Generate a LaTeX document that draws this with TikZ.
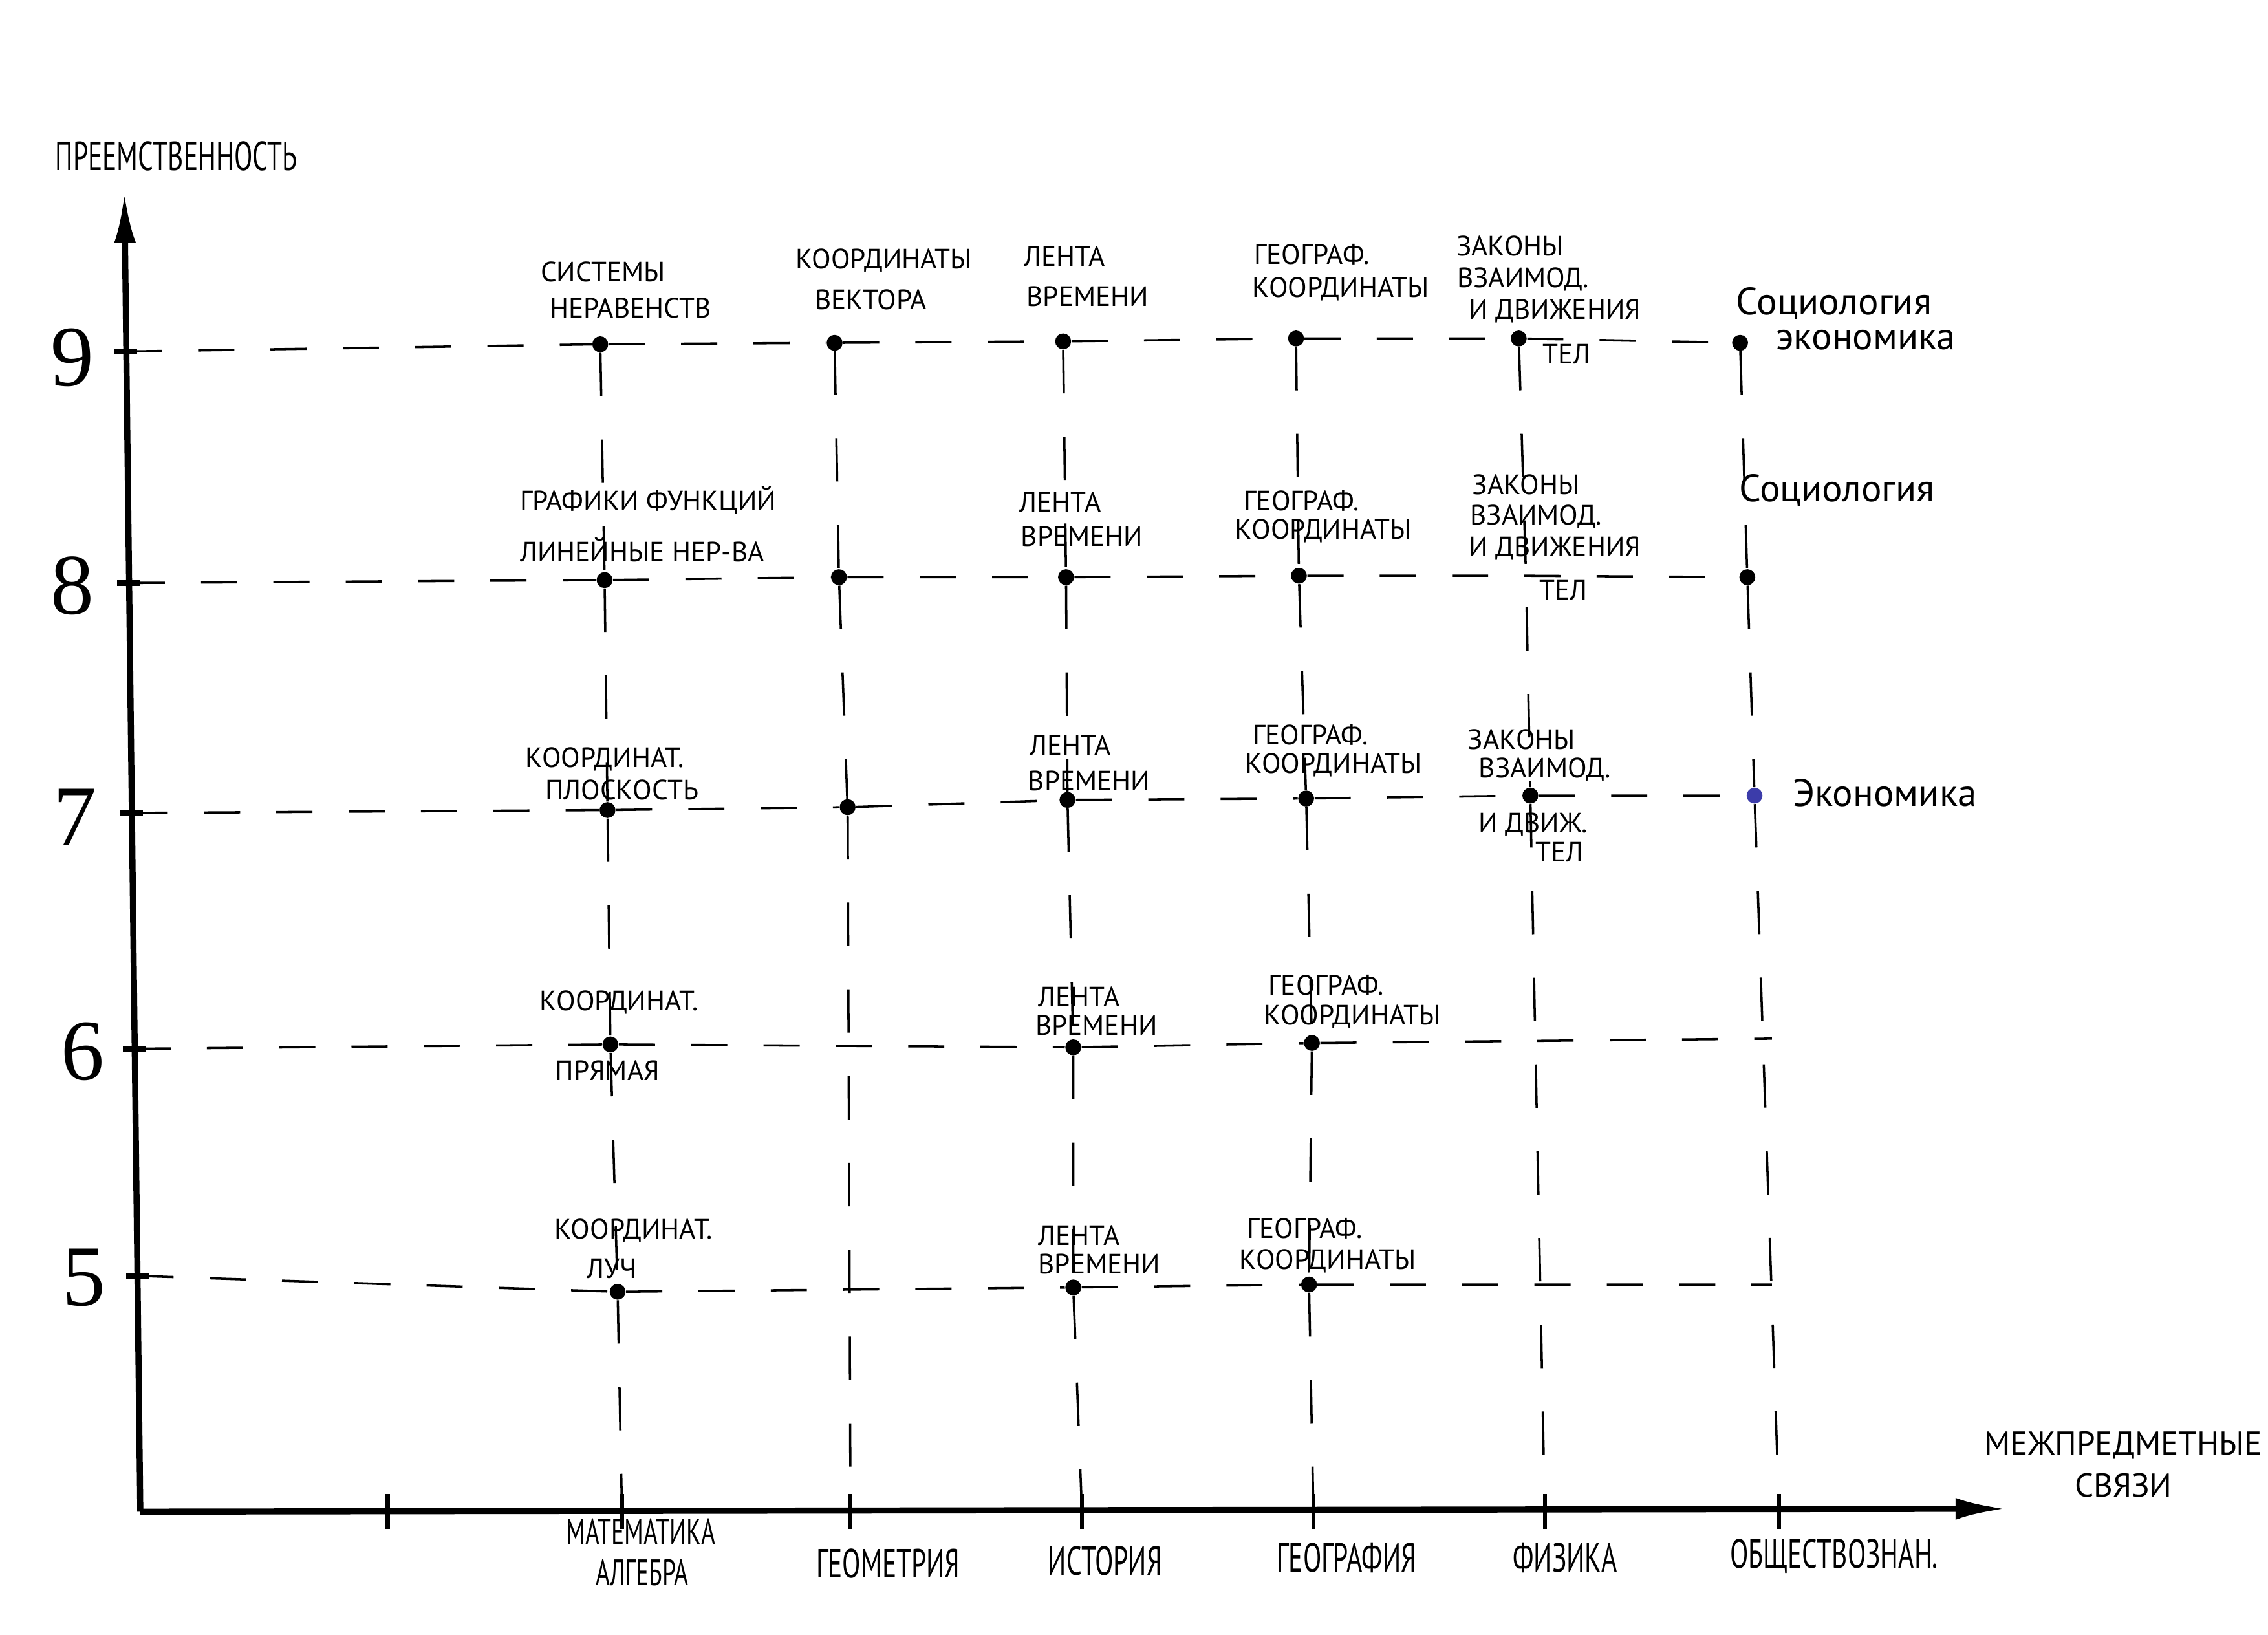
\documentclass[tikz,border=0pt]{standalone}
\usepackage{fontspec}
\setmainfont{PT Sans}
\newfontfamily\hand{PT Sans}
\newfontfamily\handc[FakeStretch=0.66]{PT Sans}
\newfontfamily\digits{Liberation Serif}
\usetikzlibrary{arrows.meta}
\definecolor{inkblue}{RGB}{60,60,170}
\begin{document}
\begin{tikzpicture}[x=0.2mm,y=-0.2mm,
 lab/.style={font=\hand\fontsize{11}{11}\selectfont, inner sep=0pt, anchor=center},
 soc/.style={font=\hand\fontsize{15}{15}\selectfont, inner sep=0pt, anchor=center},
 axl/.style={font=\handc\fontsize{16}{16}\selectfont, inner sep=0pt, anchor=center},
 axs/.style={font=\handc\fontsize{14.5}{14.5}\selectfont, inner sep=0pt, anchor=center},
 ttl/.style={font=\hand\fontsize{13}{13}\selectfont, inner sep=0pt, anchor=center},
 num/.style={font=\digits\fontsize{34}{34}\selectfont, inner sep=0pt, anchor=center},
 dot/.style={circle, fill=black, inner sep=0pt, minimum size=2.2mm},
 hd/.style={line width=0.9pt, dash pattern=on 5mm off 5mm},
 vd/.style={line width=0.9pt, dash pattern=on 6mm off 6mm},
 axisline/.style={line width=2.4pt, -{Latex[length=7mm,width=3mm]}},
 ytick/.style={line width=2.4pt},
 xtick/.style={line width=1.6pt}]

\useasboundingbox (0,0) rectangle (1568,1130);
\fill[white] (0,0) rectangle (1568,1130);

% axes
\coordinate (O) at (97,1045);
\coordinate (ytop) at (86,133);
\coordinate (xend) at (1387,1043);
\draw[axisline] (O) -- (ytop);
\draw[axisline] (O) -- (xend);

% y ticks
\coordinate (y9) at (87,243);
\coordinate (y8) at (89,403);
\coordinate (y7) at (91,562);
\coordinate (y6) at (93,725);
\coordinate (y5) at (95,882);
\foreach \t in {y9,y8,y7,y6,y5}{\draw[ytick] (\t) ++(-8,0) -- ++(16,0);}

% x ticks
\coordinate (x0) at (268,1045);
\coordinate (xa) at (430,1045);
\coordinate (xb) at (588,1045);
\coordinate (xc) at (748,1045);
\coordinate (xd) at (908,1045);
\coordinate (xe) at (1068,1045);
\coordinate (xf) at (1230,1045);
\foreach \t in {x0,xa,xb,xc,xd,xe,xf}{\draw[xtick] (\t) ++(0,-12) -- ++(0,24);}

% numbers
\node[num] (n9) at (50,247) {9};
\node[num] (n8) at (50,405) {8};
\node[num] (n7) at (52,565) {7};
\node[num] (n6) at (57,727) {6};
\node[num] (n5) at (58,883) {5};

% dots
\node[dot] (d9a) at (415,238) {};
\node[dot] (d9b) at (577,237) {};
\node[dot] (d9c) at (735,236) {};
\node[dot] (d9d) at (896,234) {};
\node[dot] (d9e) at (1050,234) {};
\node[dot] (d9f) at (1203,237) {};
\node[dot] (d8a) at (418,401) {};
\node[dot] (d8b) at (580,399) {};
\node[dot] (d8c) at (737,399) {};
\node[dot] (d8d) at (898,398) {};
\coordinate (d8e) at (1055,398);
\node[dot] (d8f) at (1208,399) {};
\node[dot] (d7a) at (420,560) {};
\node[dot] (d7b) at (586,558) {};
\node[dot] (d7c) at (738,553) {};
\node[dot] (d7d) at (903,552) {};
\node[dot] (d7e) at (1058,550) {};
\node[dot, fill=inkblue] (d7f) at (1213,550) {};
\node[dot] (d6a) at (422,722) {};
\node[dot] (d6c) at (742,724) {};
\node[dot] (d6d) at (907,721) {};
\coordinate (e6) at (1225,718);
\node[dot] (d5a) at (427,893) {};
\node[dot] (d5c) at (742,890) {};
\node[dot] (d5d) at (905,888) {};
\coordinate (e5) at (1225,888);

% horizontal dashed lines
\draw[hd] (y9) -- (d9a) -- (d9b) -- (d9c) -- (d9d) -- (d9e) -- (d9f);
\draw[hd] (y8) -- (d8a) -- (d8b) -- (d8c) -- (d8d) -- (d8e) -- (d8f);
\draw[hd] (y7) -- (d7a) -- (d7b) -- (d7c) -- (d7d) -- (d7e) -- (d7f);
\draw[hd] (y6) -- (d6a) -- (d6c) -- (d6d) -- (e6);
\draw[hd] (y5) -- (d5a) -- (d5c) -- (d5d) -- (e5);

% vertical dashed lines
\draw[vd] (d9a) -- (d8a) -- (d7a) -- (d6a) -- (d5a) -- (xa);
\draw[vd] (d9b) -- (d8b) -- (d7b) -- (xb);
\draw[vd] (d9c) -- (d8c) -- (d7c) -- (d6c) -- (d5c) -- (xc);
\draw[vd] (d9d) -- (d8d) -- (d7d) -- (d6d) -- (d5d) -- (xd);
\draw[vd] (d9e) -- (d8e) -- (d7e) -- (xe);
\draw[vd] (d9f) -- (d8f) -- (d7f) -- (xf);

% axis titles
\node[axl] (ytitle) at (122,108) {ПРЕЕМСТВЕННОСТЬ};
\node[ttl] (xt1) at (1468,999) {МЕЖПРЕДМЕТНЫЕ};
\node[ttl] (xt2) at (1468,1027) {СВЯЗИ};

% subjects
\node[axs] (sa1) at (443,1059) {МАТЕМАТИКА};
\node[axs] (sa2) at (444,1087) {АЛГЕБРА};
\node[axl] (sb) at (614,1081) {ГЕОМЕТРИЯ};
\node[axl] (sc) at (764,1079) {ИСТОРИЯ};
\node[axl] (sd) at (931,1077) {ГЕОГРАФИЯ};
\node[axl] (se) at (1082,1077) {ФИЗИКА};
\node[axl] (sf) at (1268,1076) {ОБЩЕСТВОЗНАН.};

% row 9
\node[lab] (t9a1) at (417,188) {СИСТЕМЫ};
\node[lab] (t9a2) at (436,213) {НЕРАВЕНСТВ};
\node[lab] (t9b1) at (611,180) {КООРДИНАТЫ};
\node[lab] (t9b2) at (602,207) {ВЕКТОРА};
\node[lab] (t9c1) at (736,177) {ЛЕНТА};
\node[lab] (t9c2) at (752,205) {ВРЕМЕНИ};
\node[lab] (t9d1) at (907,176) {ГЕОГРАФ.};
\node[lab] (t9d2) at (927,200) {КООРДИНАТЫ};
\node[lab] (t9e1) at (1044,170) {ЗАКОНЫ};
\node[lab] (t9e2) at (1053,193) {ВЗАИМОД.};
\node[lab] (t9e3) at (1075,215) {И ДВИЖЕНИЯ};
\node[lab] (t9e4) at (1083,245) {ТЕЛ};
\node[soc] (t9f1) at (1268,210) {Социология};
\node[soc] (t9f2) at (1290,235) {экономика};

% row 8
\node[lab] (t8a1) at (448,346) {ГРАФИКИ ФУНКЦИЙ};
\node[lab] (t8a2) at (444,380) {ЛИНЕЙНЫЕ НЕР-ВА};
\node[lab] (t8c1) at (733,347) {ЛЕНТА};
\node[lab] (t8c2) at (748,371) {ВРЕМЕНИ};
\node[lab] (t8d1) at (900,346) {ГЕОГРАФ.};
\node[lab] (t8d2) at (915,367) {КООРДИНАТЫ};
\node[lab] (t8e1) at (1055,335) {ЗАКОНЫ};
\node[lab] (t8e2) at (1062,357) {ВЗАИМОД.};
\node[lab] (t8e3) at (1075,379) {И ДВИЖЕНИЯ};
\node[lab] (t8e4) at (1081,408) {ТЕЛ};
\node[soc] (t8f1) at (1270,339) {Социология};

% row 7
\node[lab] (t7a1) at (418,525) {КООРДИНАТ.};
\node[lab] (t7a2) at (430,546) {ПЛОСКОСТЬ};
\node[lab] (t7c1) at (740,515) {ЛЕНТА};
\node[lab] (t7c2) at (753,540) {ВРЕМЕНИ};
\node[lab] (t7d1) at (906,508) {ГЕОГРАФ.};
\node[lab] (t7d2) at (922,529) {КООРДИНАТЫ};
\node[lab] (t7e1) at (1052,511) {ЗАКОНЫ};
\node[lab] (t7e2) at (1068,532) {ВЗАИМОД.};
\node[lab] (t7e3) at (1060,570) {И ДВИЖ.};
\node[lab] (t7e4) at (1078,589) {ТЕЛ};
\node[soc] (t7f1) at (1303,548) {Экономика};

% row 6
\node[lab] (t6a1) at (428,693) {КООРДИНАТ.};
\node[lab] (t6a2) at (420,740) {ПРЯМАЯ};
\node[lab] (t6c1) at (746,689) {ЛЕНТА};
\node[lab] (t6c2) at (758,709) {ВРЕМЕНИ};
\node[lab] (t6d1) at (917,681) {ГЕОГРАФ.};
\node[lab] (t6d2) at (935,703) {КООРДИНАТЫ};

% row 5
\node[lab] (t5a1) at (438,851) {КООРДИНАТ.};
\node[lab] (t5a2) at (423,877) {ЛУЧ};
\node[lab] (t5c1) at (746,854) {ЛЕНТА};
\node[lab] (t5c2) at (760,874) {ВРЕМЕНИ};
\node[lab] (t5d1) at (902,849) {ГЕОГРАФ.};
\node[lab] (t5d2) at (918,872) {КООРДИНАТЫ};
\end{tikzpicture}
\end{document}
